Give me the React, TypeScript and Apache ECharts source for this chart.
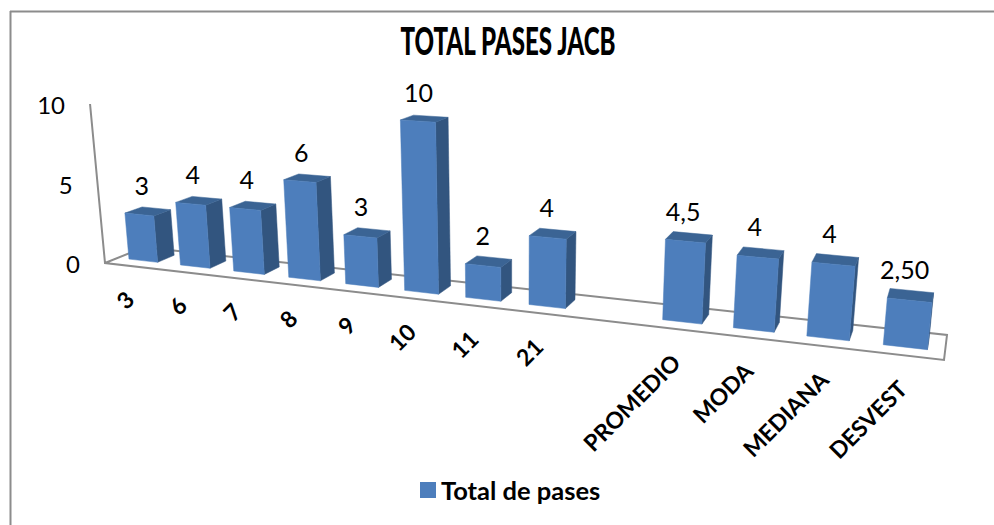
import React, { useEffect, useRef } from "react";
import * as echarts from "echarts";

const categories = ["3", "6", "7", "8", "9", "10", "11", "21", "", "PROMEDIO", "MODA", "MEDIANA", "DESVEST"];
const seriesValues: (number | null)[] = [3, 4, 4, 6, 3, 10, 2, 4, null, 4.5, 4, 4, 2.5];
const valueLabels = ["3", "4", "4", "6", "3", "10", "2", "4", "", "4,5", "4", "4", "2,50"];
const tickValues = [0, 5, 10];
const tickLabels = ["0", "5", "10"];
const seriesName = "Total de pases";
const titleText = "TOTAL PASES JACB";

const FONT = "Lato, Carlito, Calibri, sans-serif";
const FRONT = "#4d7ebc";
const SIDE = "#32557f";
const TOP = "#3b6494";
const FRAME = "#8c8c8c";

// perspective: floor corners and the vanishing point of the verticals
const q = { x0: 105, y0: 263, x1: 944, y1: 360, x2: 947, y2: 335, x3: 144, y3: 247.3 };
const vp = { x: 513, y: 4600 };
const axisTopY = 104;

const den = (q.x1 - q.x2) * (q.y3 - q.y2) - (q.x3 - q.x2) * (q.y1 - q.y2);
const sx = q.x0 - q.x1 + q.x2 - q.x3;
const sy = q.y0 - q.y1 + q.y2 - q.y3;
const g = (sx * (q.y3 - q.y2) - (q.x3 - q.x2) * sy) / den;
const hh = ((q.x1 - q.x2) * sy - sx * (q.y1 - q.y2)) / den;
const a = q.x1 - q.x0 + g * q.x1;
const b = q.x3 - q.x0 + hh * q.x3;
const d = q.y1 - q.y0 + g * q.y1;
const e = q.y3 - q.y0 + hh * q.y3;
const lam = (axisTopY - q.y0) / (vp.y - axisTopY);

function project(u: number, v: number, z: number): number[] {
  const w = g * u + hh * z + 1 + lam * v;
  return [
    (a * u + b * z + q.x0 + lam * vp.x * v) / w,
    (d * u + e * z + q.y0 + lam * vp.y * v) / w,
  ];
}

const Z_FRONT = 0.32;
const Z_BACK = 0.76;
const BAR_FRACTION = 0.56;

function normal(params: any, api: any, cat: number, val: number): number[] {
  const cs = params.coordSys;
  const p = api.coord([cat, val]);
  return [(p[0] - cs.x) / cs.width, (cs.y + cs.height - p[1]) / cs.height];
}

function renderBar(params: any, api: any) {
  const cat = api.value(0);
  const val = api.value(1);
  const [uc, v] = normal(params, api, cat, val);
  const half = (api.size([1, 0])[0] / params.coordSys.width) * BAR_FRACTION * 0.5;
  const u0 = uc - half;
  const u1 = uc + half;
  const poly = (pts: number[][], fill: string) => ({
    type: "polygon",
    shape: { points: pts },
    style: { fill, stroke: fill, lineWidth: 0.5 },
  });
  const labelPos = project(uc, v, (Z_FRONT + Z_BACK) / 2);
  return {
    type: "group",
    children: [
      poly([project(u1, 0, Z_FRONT), project(u1, 0, Z_BACK), project(u1, v, Z_BACK), project(u1, v, Z_FRONT)], SIDE),
      poly([project(u0, v, Z_FRONT), project(u1, v, Z_FRONT), project(u1, v, Z_BACK), project(u0, v, Z_BACK)], TOP),
      poly([project(u0, 0, Z_FRONT), project(u1, 0, Z_FRONT), project(u1, v, Z_FRONT), project(u0, v, Z_FRONT)], FRONT),
      {
        type: "text",
        x: labelPos[0] - 6,
        y: labelPos[1] - 26.5,
        style: {
          text: valueLabels[cat],
          align: "center",
          verticalAlign: "middle",
          font: `25px ${FONT}`,
          fill: "#000",
        },
      },
    ],
  };
}

function renderCategory(params: any, api: any) {
  const cat = api.value(0);
  const [uc] = normal(params, api, cat, 0);
  const p = project(uc, 0, 0);
  return {
    type: "text",
    x: p[0] - 1,
    y: p[1] + 29,
    rotation: Math.PI / 4,
    style: {
      text: categories[cat],
      align: "right",
      verticalAlign: "middle",
      font: `bold 23px ${FONT}`,
      fill: "#000",
    },
  };
}

function renderTick(params: any, api: any) {
  const val = api.value(1);
  const [, v] = normal(params, api, 0, val);
  const p = project(0, v, 0);
  return {
    type: "text",
    x: p[0] - 25,
    y: p[1],
    style: {
      text: tickLabels[tickValues.indexOf(val)],
      align: "right",
      verticalAlign: "middle",
      font: `24px ${FONT}`,
      fill: "#000",
    },
  };
}

function renderFrame(params: any, api: any) {
  const [, vTop] = normal(params, api, 0, 10);
  const line = (pts: number[][]) => ({
    type: "polyline",
    shape: { points: pts },
    style: { fill: "none", stroke: FRAME, lineWidth: 2 },
  });
  return {
    type: "group",
    children: [
      line([project(0, vTop, 0), project(0, 0, 0), project(1, 0, 0), project(1, 0, 1), project(0, 0, 1), project(0, 0, 0)]),
    ],
  };
}

export default function App() {
  const ref = useRef<HTMLDivElement>(null);
  useEffect(() => {
    const chart = echarts.init(ref.current!, undefined, { renderer: "svg" });
    chart.setOption({
      animation: false,
      backgroundColor: "#fff",
      grid: { left: 100, right: 100, top: 100, bottom: 100 },
      xAxis: { type: "category", data: categories, show: false },
      yAxis: { type: "value", min: 0, max: 10, interval: 5, show: false },
      legend: {
        left: 415,
        top: 472,
        itemWidth: 16,
        itemHeight: 16,
        itemGap: 6,
        data: [{ name: seriesName, icon: "rect", itemStyle: { color: FRONT } }],
        textStyle: { fontFamily: FONT, fontWeight: "bold", fontSize: 25.5, color: "#000", padding: [0, 0, 0, 0] },
        selectedMode: false,
      },
      graphic: [
        { type: "line", shape: { x1: 10, y1: 11.5, x2: 994, y2: 11.5 }, style: { stroke: FRAME, lineWidth: 2 } },
        { type: "line", shape: { x1: 10.5, y1: 11, x2: 10.5, y2: 525 }, style: { stroke: FRAME, lineWidth: 2 } },
        {
          type: "text",
          x: 508,
          y: 41,
          scaleX: 0.635,
          style: {
            text: titleText,
            align: "center",
            verticalAlign: "middle",
            font: `900 38px ${FONT}`,
            fill: "#000",
          },
        },
      ],
      series: [
        {
          name: "frame",
          type: "custom",
          renderItem: renderFrame,
          data: [[0, 0]],
          clip: false,
          silent: true,
          z: 1,
        },
        {
          name: seriesName,
          type: "custom",
          renderItem: renderBar,
          data: seriesValues.map((v, i) => [i, v]).filter((p) => p[1] !== null),
          itemStyle: { color: FRONT },
          clip: false,
          z: 2,
        },
        {
          name: "categories",
          type: "custom",
          renderItem: renderCategory,
          data: categories.map((c, i) => [i, 0]).filter((p) => categories[p[0]] !== ""),
          clip: false,
          silent: true,
          z: 3,
        },
        {
          name: "ticks",
          type: "custom",
          renderItem: renderTick,
          data: tickValues.map((t) => [0, t]),
          clip: false,
          silent: true,
          z: 3,
        },
      ],
    });
    return () => chart.dispose();
  }, []);
  return <div ref={ref} style={{ position: "fixed", left: 0, top: 0, width: 994, height: 525 }} />;
}
